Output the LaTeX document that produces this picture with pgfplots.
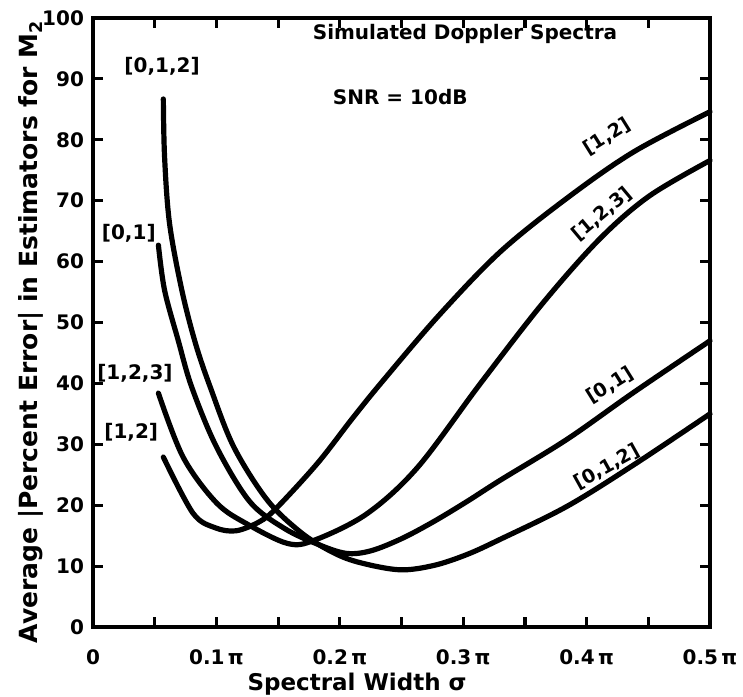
\documentclass[border=0pt]{standalone}
\usepackage{fontspec}
\setmainfont{DejaVu Sans}
\usepackage{pgfplots}
\pgfplotsset{compat=1.18}

% Average |percent error| of the M2 estimators versus spectral width (units of pi)
\pgfplotstableread{
x y
0.057 27.9
0.081 18.7
0.099 16.3
0.116 15.8
0.135 17.3
0.149 19.6
0.182 26.9
0.210 34.2
0.234 40.2
0.280 51.1
0.330 61.6
0.384 70.4
0.438 78.0
0.500 84.6
}\estOneTwo
\pgfplotstableread{
x y
0.053 38.4
0.073 27.9
0.100 20.4
0.125 16.9
0.158 13.7
0.180 14.3
0.222 18.6
0.263 26.2
0.314 40.0
0.365 53.3
0.411 63.8
0.451 70.8
0.500 76.6
}\estOneTwoThree
\pgfplotstableread{
x y
0.053 62.7
0.058 55.3
0.069 47.1
0.080 39.4
0.100 29.6
0.127 20.6
0.155 16.2
0.182 13.6
0.205 12.1
0.225 12.5
0.250 14.5
0.276 17.3
0.303 20.6
0.330 24.1
0.384 30.8
0.438 38.5
0.500 47.0
}\estZeroOne
\pgfplotstableread{
x y
0.057 86.7
0.058 77.2
0.062 66.3
0.072 55.3
0.083 46.6
0.095 39.4
0.114 29.6
0.141 20.9
0.168 15.6
0.192 12.5
0.214 10.7
0.248 9.4
0.276 10.1
0.303 11.9
0.330 14.4
0.384 19.8
0.438 26.6
0.500 35.0
}\estZeroOneTwo

\begin{document}
\begin{tikzpicture}
\begin{axis}[
  scale only axis,
  width=308.5pt, height=304.5pt,
  xmin=0, xmax=0.5, ymin=0, ymax=100,
  clip=false,
  font=\bfseries\fontsize{10}{12}\selectfont,
  axis line style={line width=2.2pt, line cap=round},
  tick align=inside,
  major tick length=5pt, minor tick length=5pt,
  every tick/.style={black, line width=1.6pt},
  xtick={0,0.1,0.2,0.3,0.4,0.5},
  xticklabels={0, 0.1\,π, 0.2\,π, 0.3\,π, 0.4\,π, 0.5\,π},
  minor xtick={0.05,0.15,0.25,0.35,0.45},
  ytick={0,10,...,100},
  /pgf/number format/assume math mode=true,
  xticklabel style={font=\bfseries\fontsize{10}{12}\selectfont, yshift=-8pt},
  yticklabel style={font=\bfseries\fontsize{10}{12}\selectfont, xshift=-1pt},
  xlabel={Spectral Width σ},
  ylabel={Average |Percent Error| in Estimators for M$_{\mathbf 2}$},
  xlabel style={at={(axis description cs:0.428,-0.094)}, anchor=center,
    font=\bfseries\fontsize{11.5}{13}\selectfont},
  ylabel style={at={(axis description cs:-0.100,0.485)}, anchor=center,
    font=\bfseries\fontsize{12.5}{14}\selectfont},
  cycle list={{black}},
  every axis plot post/.style={black, line width=2.6pt, line cap=round, smooth, tension=0.55, mark=none},
]
\addplot table {\estOneTwo};
\addplot table {\estOneTwoThree};
\addplot table {\estZeroOne};
\addplot table {\estZeroOneTwo};

\coordinate (sw) at (rel axis cs:0,0);
\coordinate (ne) at (rel axis cs:1,1);

% annotation text
\node[font=\bfseries\fontsize{10}{12}\selectfont] at (axis cs:0.3015,97.4) {Simulated Doppler Spectra};
\node[font=\bfseries\fontsize{10}{12}\selectfont] at (axis cs:0.249,87.0) {SNR = 10dB};

% curve labels, left side
\node[font=\bfseries\fontsize{10}{12}\selectfont] at (axis cs:0.056,92.0) {[0,1,2]};
\node[font=\bfseries\fontsize{10}{12}\selectfont] at (axis cs:0.029,64.7) {[0,1]};
\node[font=\bfseries\fontsize{10}{12}\selectfont] at (axis cs:0.034,41.7) {[1,2,3]};
\node[font=\bfseries\fontsize{10}{12}\selectfont] at (axis cs:0.031,31.9) {[1,2]};

% curve labels, right side
\node[font=\bfseries\fontsize{9.5}{11}\selectfont, rotate=32, inner sep=0pt] at (axis cs:0.4165,80.5) {[1,2]};
\node[font=\bfseries\fontsize{9.5}{11}\selectfont, rotate=40, inner sep=0pt] at (axis cs:0.4125,67.8) {[1,2,3]};
\node[font=\bfseries\fontsize{9.5}{11}\selectfont, rotate=32, inner sep=0pt] at (axis cs:0.419,39.7) {[0,1]};
\node[font=\bfseries\fontsize{9.5}{11}\selectfont, rotate=29, inner sep=0pt] at (axis cs:0.4165,26.3) {[0,1,2]};
\end{axis}
\pgfresetboundingbox
\path[use as bounding box] ([xshift=-46.5pt,yshift=-34.5pt]sw) rectangle ([xshift=16.5pt,yshift=9pt]ne);
\end{tikzpicture}
\end{document}
